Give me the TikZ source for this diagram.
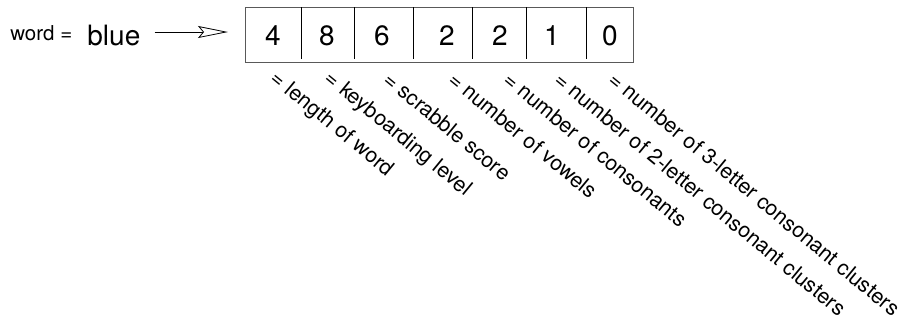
\documentclass[tikz,border=0pt]{standalone}
\usepackage{fontspec}
\setmainfont{TeX Gyre Heros}
\usetikzlibrary{arrows.meta}
\begin{document}
\begin{tikzpicture}[x=1pt, y=-1pt, line width=0.8pt,
  pointer/.style={-{Stealth[open, length=30pt, width=12pt, inset=5pt]}},
  digit/.style={anchor=base, inner sep=0, font=\fontsize{28}{30}\selectfont},
  lab/.style={anchor=west, inner sep=0, rotate=-39.5, font=\fontsize{21.3}{24}\selectfont}]
\useasboundingbox (0,0) rectangle (904,322);

\node[anchor=base west, inner sep=0, font=\fontsize{20.5}{24}\selectfont](word) at (10,40){word =};
\node[anchor=base west, inner sep=0, font=\fontsize{28}{30}\selectfont](blue) at (87,45){blue};

\node[draw=black!65, anchor=north west, inner sep=0, minimum width=388pt, minimum height=55pt](box) at (245,7){};
\draw[pointer, shorten <=14pt, shorten >=17pt]([yshift=3pt]blue.east)--([yshift=3pt]blue.east -| box.west);

\draw(301,7)--(301,59);
\draw(354,7)--(354,59);
\draw(413,7)--(413,59);
\draw(472,7)--(472,59);
\draw(526,7)--(526,59);
\draw(586,7)--(586,59);

\node[digit](d1) at (273,45){4};
\node[digit](d2) at (327,45){8};
\node[digit](d3) at (382,45){6};
\node[digit](d4) at (447,45){2};
\node[digit](d5) at (500,45){2};
\node[digit](d6) at (552,45){1};
\node[digit](d7) at (610,45){0};

\node[lab](l1) at (273,76){= length of word};
\node[lab](l2) at (327,76){= keyboarding level};
\node[lab](l3) at (387,76){= scrabble score};
\node[lab](l4) at (452,76){= number of vowels};
\node[lab](l5) at (507,76){= number of consonants};
\node[lab](l6) at (558,76){= number of 2-letter consonant clusters};
\node[lab](l7) at (612,76){= number of 3-letter consonant clusters};
\end{tikzpicture}
\end{document}
